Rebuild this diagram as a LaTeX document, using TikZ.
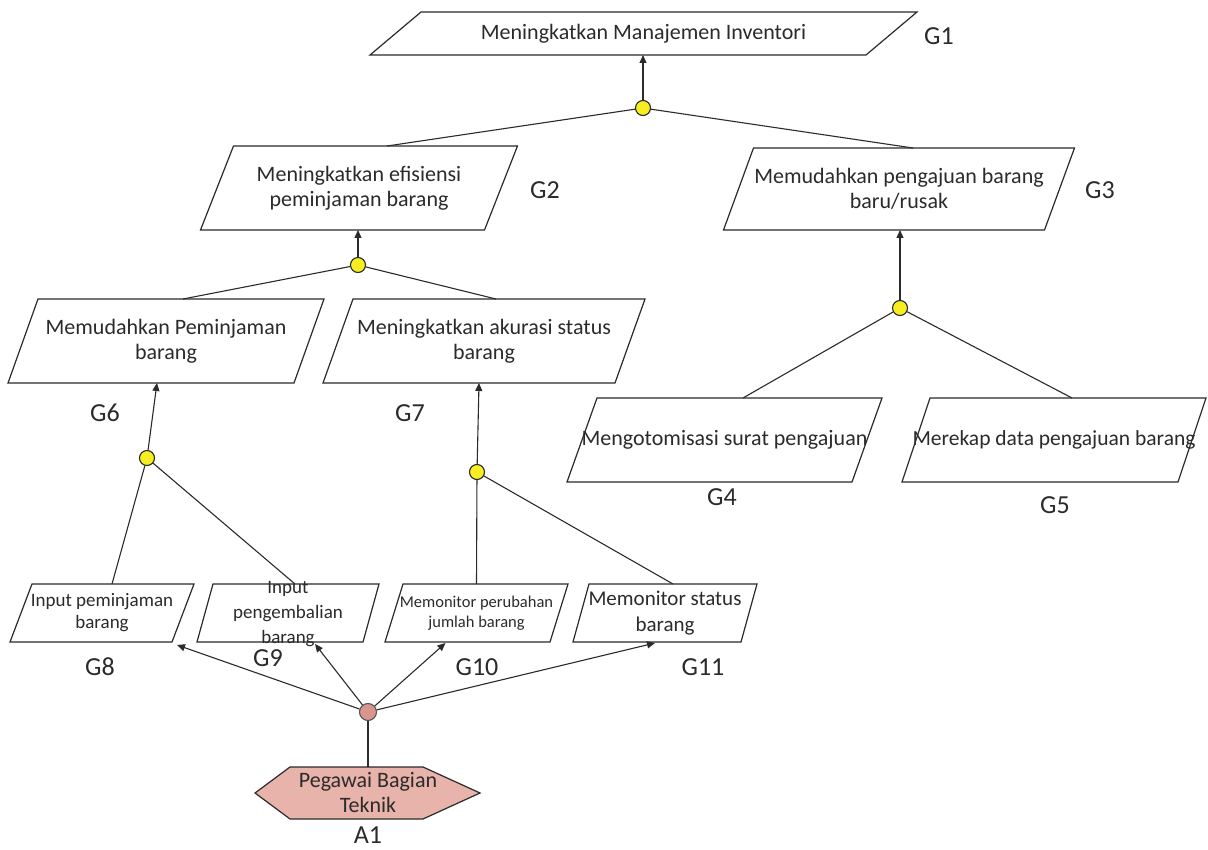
\documentclass[tikz,border=0pt]{standalone}
\usepackage{fontspec}
\setmainfont{Carlito}
\usetikzlibrary{arrows.meta}
\definecolor{ink}{HTML}{2B2B2B}
\definecolor{andyellow}{HTML}{F7EE22}
\definecolor{actorpink}{HTML}{E8B3AB}
\definecolor{dotpink}{HTML}{D9968C}
\tikzset{
 gline/.style={draw=ink, line width=1.2pt, line join=miter},
 gtext/.style={text=ink, align=center, inner sep=0pt, font=\fontsize{22}{25}\selectfont},
 conn/.style={draw=ink, line width=1.1pt},
 arr/.style={conn, -{Triangle[length=8pt,width=7pt]}},
 andc/.style={circle, draw=ink, line width=1.1pt, fill=andyellow, minimum size=15pt, inner sep=0pt},
 actc/.style={circle, draw=ink!80, line width=1.1pt, fill=dotpink, minimum size=17pt, inner sep=0pt},
 glabel/.style={text=ink, inner sep=0pt, font=\fontsize{26}{30}\selectfont},
}
\newcommand\goalbox[8]{%
 \draw[gline,shift={(#2,#3)}] ({-#4/2+#6/2},{-#5/2}) -- ({#4/2+#6/2},{-#5/2}) -- ({#4/2-#6/2},{#5/2}) -- ({-#4/2-#6/2},{#5/2}) -- cycle;
 \coordinate (#1-t) at (#2,{#3-#5/2});
 \coordinate (#1-b) at (#2,{#3+#5/2});
 \node[gtext,#7] (#1) at (#2,#3) {#8};
}
\begin{document}
\begin{tikzpicture}[x=1pt,y=-1pt]
\fill[white] (0,0) rectangle (1208,850);
\useasboundingbox (0,0) rectangle (1208,850);

\goalbox{G1}{643.5}{33.5}{496}{43}{51}{}{Meningkatkan Manajemen Inventori}
\goalbox{G2}{359}{188}{284}{84}{33}{}{Meningkatkan efisiensi\\peminjaman barang}
\goalbox{G3}{899}{189}{321}{82}{30}{}{Memudahkan pengajuan barang\\baru/rusak}
\goalbox{G4}{724.5}{440}{285}{84}{30}{}{Mengotomisasi surat pengajuan}
\goalbox{G5}{1054}{440}{276}{84}{28}{font=\fontsize{21.5}{25}\selectfont}{Merekap data pengajuan barang}
\goalbox{G6}{166}{341}{286}{84}{30}{}{Memudahkan Peminjaman\\barang}
\goalbox{G7}{484}{341}{292}{84}{30}{}{Meningkatkan akurasi status\\barang}
\goalbox{G8}{102}{613}{162}{58}{22}{font=\fontsize{19}{22}\selectfont}{Input peminjaman\\barang}
\goalbox{G9}{288}{613}{166}{58}{16}{yshift=-1pt,font=\fontsize{19}{25}\selectfont}{Input\\pengembalian\\barang}
\goalbox{G10}{476.5}{613}{165}{58}{18}{font=\fontsize{16.5}{20}\selectfont}{Memonitor perubahan\\jumlah barang}
\goalbox{G11}{665}{613}{168}{58}{16}{font=\fontsize{21}{26}\selectfont}{Memonitor status\\barang}

\draw[gline, fill=actorpink] (290,767) -- (423,767) -- (480,793) -- (423,819) -- (290,819) -- (255,793) -- cycle;
\node[gtext] (A1) at (368,793) {Pegawai Bagian\\Teknik};
\coordinate (A1-t) at (368,767);

\node[andc] (c1) at (643,108) {};
\node[andc] (c2) at (358,265) {};
\node[andc] (c3) at (900,308) {};
\node[andc] (c6) at (147,458) {};
\node[andc] (c7) at (477,472) {};
\node[actc] (a1c) at (368,712) {};

\draw[arr] (c1) -- ([xshift=-0.5pt]G1-b);
\draw[conn] (c1) -- ([xshift=28pt]G2-t);
\draw[conn] (c1) -- ([xshift=14pt]G3-t);
\draw[arr] (c2) -- ([xshift=-1pt]G2-b);
\draw[conn] (c2) -- ([xshift=17pt]G6-t);
\draw[conn] (c2) -- ([xshift=12pt]G7-t);
\draw[arr] (c3) -- ([xshift=1pt]G3-b);
\draw[conn] (c3) -- ([xshift=18.5pt]G4-t);
\draw[conn] (c3) -- ([xshift=18pt]G5-t);
\draw[arr] (c6) -- ([xshift=-9pt]G6-b);
\draw[conn] (c6) -- ([xshift=10pt]G8-t);
\draw[conn] (c6) -- ([xshift=7pt]G9-t);
\draw[arr] (c7) -- ([xshift=-5pt]G7-b);
\draw[conn] (c7) -- (G10-t);
\draw[conn] (c7) -- ([xshift=8pt]G11-t);
\draw[arr] (a1c) -- ([shift={(75,3)}]G8-b);
\draw[arr] (a1c) -- ([shift={(27,2)}]G9-b);
\draw[arr] (a1c) -- ([shift={(-31,1)}]G10-b);
\draw[arr] (a1c) -- ([shift={(-10,1)}]G11-b);
\draw[conn] (a1c) -- (A1-t);

\node[glabel] (L1) at (939,36) {G1};
\node[glabel] (L2) at (545,190) {G2};
\node[glabel] (L3) at (1100,190) {G3};
\node[glabel] (L4) at (722,497) {G4};
\node[glabel] (L5) at (1055,505) {G5};
\node[glabel] (L6) at (105,413) {G6};
\node[glabel] (L7) at (410,413) {G7};
\node[glabel] (L8) at (100,667) {G8};
\node[glabel] (L9) at (268,658) {G9};
\node[glabel] (L10) at (477,667) {G10};
\node[glabel] (L11) at (703,667) {G11};
\node[glabel] (LA1) at (368,835) {A1};
\end{tikzpicture}
\end{document}
